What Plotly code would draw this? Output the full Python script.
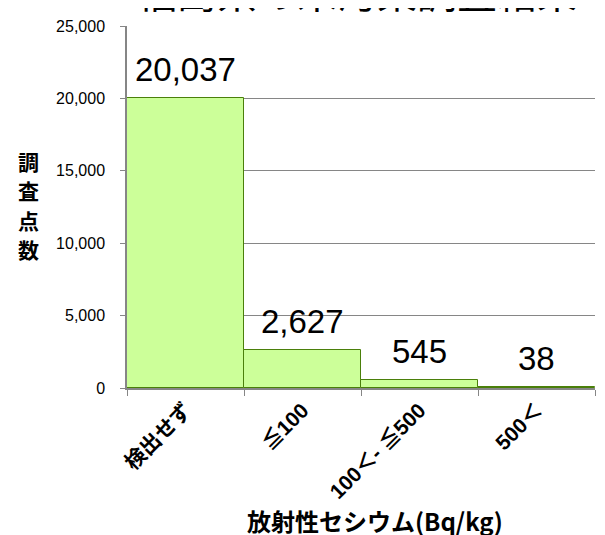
import plotly.graph_objects as go

categories = ["検出せず", "≦100", "100＜- ≦500", "500＜"]
counts = [20037, 2627, 545, 38]
y_ticks = [0, 5000, 10000, 15000, 20000, 25000]
title_text = "福島県の米汚染調査結果"
x_title = "放射性セシウム(Bq/kg)"
y_title = "調査点数"

FONT = "Liberation Sans, Arial, Noto Sans CJK JP, sans-serif"
CJK = "Noto Sans CJK JP, Liberation Sans, sans-serif"

fig = go.Figure()
fig.add_trace(go.Bar(
    x=categories, y=counts,
    marker=dict(color="#ccff99", line=dict(color="#4a7f0a", width=1)),
    hoverinfo="skip",
))

annotations = []
for c, v in zip(categories, counts):
    annotations.append(dict(
        x=c, y=v, xref="x", yref="y", text=f"{v:,}", showarrow=False,
        yanchor="bottom", yshift=8,
        font=dict(family=FONT, size=33, color="#000000"),
    ))

annotations.append(dict(
    x=0.491, xref="paper", y=1.097, yref="paper", text=title_text, showarrow=False,
    yanchor="middle", font=dict(family=CJK, size=40, color="#000000"),
))
# vertical (stacked) y-axis title, one character per line
plot_h = 370
for i, ch in enumerate(y_title):
    annotations.append(dict(
        x=-0.2105, xref="paper", y=0.627 - i * 30 / plot_h, yref="paper",
        text="<b>" + ch + "</b>", showarrow=False, borderpad=0,
        xanchor="center", yanchor="middle",
        font=dict(family=CJK, size=21, color="#000000"),
    ))
annotations.append(dict(
    x=0.53, xref="paper", y=-0.365, yref="paper",
    text="<b>" + x_title + "</b>", showarrow=False,
    xanchor="center", yanchor="middle",
    font=dict(family=CJK, size=24, color="#000000"),
))

fig.update_layout(
    width=597, height=527,
    margin=dict(l=119, r=10, t=10, b=147),
    paper_bgcolor="white", plot_bgcolor="white",
    bargap=0, showlegend=False,
    annotations=annotations,
    font=dict(family=FONT, color="#000000"),
)
fig.update_xaxes(
    type="category",
    showline=True, linecolor="#868686", linewidth=1.5,
    ticks="outside", tickson="boundaries", ticklen=6, tickcolor="#868686",
    tickangle=-45, tickfont=dict(family=FONT, size=21, color="#000000"),
    ticktext=["<b>" + c + "</b>" for c in categories], tickvals=categories,
    showgrid=False,
)
fig.update_yaxes(
    range=[0, 25000], tickvals=y_ticks, tickformat=",",
    showline=True, linecolor="#868686", linewidth=1.5,
    ticks="outside", ticklen=5, tickcolor="#868686",
    ticklabelstandoff=12,
    showgrid=True, gridcolor="#868686", gridwidth=1,
    tickfont=dict(family=FONT, size=16, color="#000000"),
    zeroline=False,
)

fig.write_html("out.html")
